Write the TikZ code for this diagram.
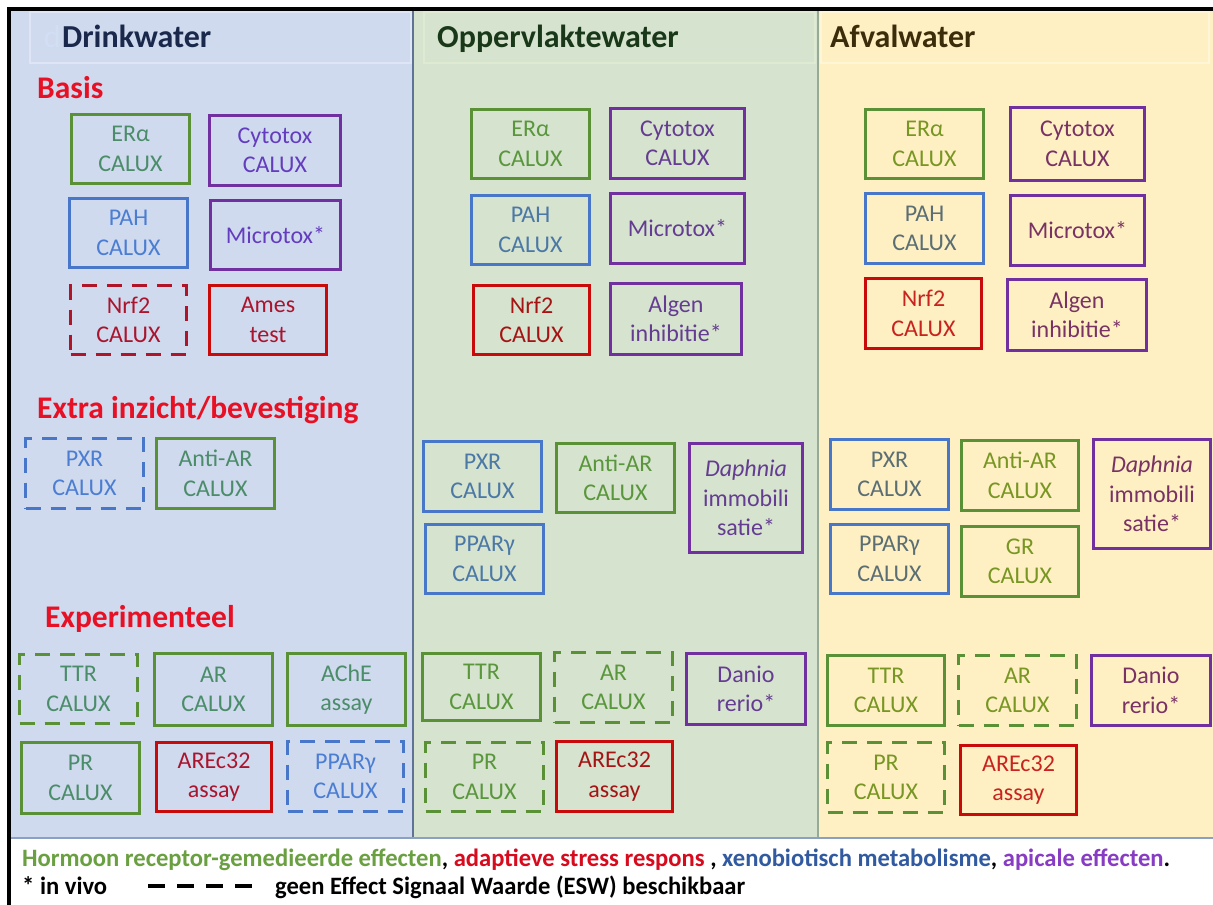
\documentclass[tikz,border=0pt]{standalone}
\usepackage{fontspec}
\setmainfont{Carlito}
\usepackage{graphicx}
\definecolor{bgB}{RGB}{207,218,238}
\definecolor{bgG}{RGB}{214,227,207}
\definecolor{bgY}{RGB}{255,240,196}
\definecolor{cG}{RGB}{90,145,55}
\definecolor{cB}{RGB}{72,118,200}
\definecolor{cP}{RGB}{112,48,160}
\definecolor{cR}{RGB}{200,10,10}
\definecolor{hR}{RGB}{232,16,36}
\definecolor{lgG}{RGB}{106,160,66}
\definecolor{lgR}{RGB}{215,10,30}
\definecolor{lgB}{RGB}{50,90,160}
\definecolor{lgP}{RGB}{135,60,195}
\definecolor{hdB}{RGB}{25,40,75}
\definecolor{hdG}{RGB}{25,55,25}
\definecolor{hdY}{RGB}{60,45,10}
\newcommand\bx[7]{\node[#6, minimum width={(#4-#2-3)*1pt}, minimum height={(#5-#3-3)*1pt}] (#1) at ({(#2+#4)/2},{(#3+#5)/2}) {#7};}
\tikzset{
  boxbase/.style={draw, line width=3pt, align=center, inner sep=0pt, font=\fontsize{24}{29.5}\selectfont},
  boxg/.style={boxbase, draw=cG, text=tg},
  boxb/.style={boxbase, draw=cB, text=tb},
  boxp/.style={boxbase, draw=cP, text=tp},
  boxr/.style={boxbase, draw=cR, text=tr},
  dsh/.style={dash pattern=on 15pt off 10pt},
  panelhead/.style={anchor=base west, inner sep=0pt, font=\fontsize{32}{38}\selectfont\bfseries},
  sechead/.style={anchor=base west, inner sep=0pt, text=hR, font=\fontsize{31.5}{38}\selectfont\bfseries},
  legend/.style={anchor=base west, inner sep=0pt, font=\fontsize{25}{30}\selectfont\bfseries}
}
\begin{document}
\begin{tikzpicture}[x=1pt,y=-1pt]
\useasboundingbox (0,0) rectangle (1213,905);
\fill[white] (0,0) rectangle (1213,905);
% panels
\fill[bgB] (11,9) rectangle (413,838);
\fill[bgG] (413,9) rectangle (818,838);
\fill[bgY] (818,9) rectangle (1213,838);
\draw[draw={rgb,255:red,222;green,230;blue,245}, line width=1.5pt] (30,12) rectangle (411,63);
\draw[draw={rgb,255:red,222;green,234;blue,210}, line width=1.5pt] (424,12) rectangle (815,63);
\draw[draw={rgb,255:red,255;green,246;blue,215}, line width=1.5pt] (821,12) rectangle (1209,63);
\draw[draw={rgb,255:red,95;green,115;blue,150}, line width=1.5pt] (413,10) -- (413,838);
\draw[draw={rgb,255:red,150;green,170;blue,150}, line width=1.5pt] (818,10) -- (818,838);
\draw[draw={rgb,255:red,140;green,160;blue,195}, line width=1.5pt] (11,838) -- (1213,838);
% outer frame
\draw[black, line width=4pt] (1213,9) -- (9,9) -- (9,905);
% headings
\node[panelhead, anchor=base east, font=\fontsize{32}{38}\selectfont, text={rgb,255:red,210;green,222;blue,244}] (dd) at (61,47) {d};
\node[panelhead, text=hdB] (hD) at (62,47) {Drinkwater};
\node[panelhead, text=hdG] (hO) at (437,47) {Oppervlaktewater};
\node[panelhead, text=hdY] (hA) at (830,47) {Afvalwater};
\node[sechead] (sB) at (37,98) {Basis};
\node[sechead] (sE) at (37,418) {Extra inzicht/bevestiging};
\node[sechead] (sX) at (45,627) {Experimenteel};
% Drinkwater
\begin{scope}
\colorlet{tg}{rgb,255:red,75;green,140;blue,105}
\colorlet{tb}{rgb,255:red,75;green,125;blue,210}
\colorlet{tp}{rgb,255:red,100;green,60;blue,190}
\colorlet{tr}{rgb,255:red,170;green,20;blue,45}
\bx{dERa}{70}{113}{191}{185}{boxg}{ERα\\CALUX}
\bx{dCyt}{208}{114}{342}{187}{boxp}{Cytotox\\CALUX}
\bx{dPAH}{68}{197}{189}{269}{boxb}{PAH\\CALUX}
\bx{dMic}{209}{199}{342}{271}{boxp}{Microtox*}
\bx{dNrf}{69}{284}{188}{356}{boxr,draw={rgb,255:red,175;green,20;blue,40},dsh}{Nrf2\\CALUX}
\bx{dAme}{208}{284}{328}{356}{boxr}{Ames\\test}
\bx{dPXR}{24}{437}{145}{510}{boxb,dsh}{PXR\\CALUX}
\bx{dAAR}{155}{437}{276}{510}{boxg}{Anti-AR\\CALUX}
\bx{dTTR}{18}{653}{139}{725}{boxg,dsh}{TTR\\CALUX}
\bx{dAR}{153}{652}{274}{727}{boxg}{AR\\CALUX}
\bx{dACh}{286}{652}{407}{727}{boxg}{AChE\\assay}
\bx{dPR}{20}{741}{141}{815}{boxg}{PR\\CALUX}
\bx{dARE}{155}{741}{273}{813}{boxr}{AREc32\\assay}
\bx{dPPA}{286}{740}{405}{813}{boxb,dsh}{PPARγ\\CALUX}
\end{scope}
% Oppervlaktewater
\begin{scope}
\colorlet{tg}{rgb,255:red,90;green,150;blue,60}
\colorlet{tb}{rgb,255:red,75;green,120;blue,165}
\colorlet{tp}{rgb,255:red,100;green,60;blue,145}
\colorlet{tr}{rgb,255:red,165;green,20;blue,20}
\bx{oERa}{470}{108}{591}{180}{boxg}{ERα\\CALUX}
\bx{oCyt}{609}{107}{746}{180}{boxp}{Cytotox\\CALUX}
\bx{oPAH}{470}{194}{591}{266}{boxb}{PAH\\CALUX}
\bx{oMic}{609}{192}{746}{265}{boxp}{Microtox*}
\bx{oNrf}{472}{284}{591}{356}{boxr}{Nrf2\\CALUX}
\bx{oAlg}{609}{282}{743}{356}{boxp}{Algen\\inhibitie*}
\bx{oPXR}{422}{440}{543}{513}{boxb}{PXR\\CALUX}
\bx{oAAR}{555}{442}{676}{514}{boxg}{Anti-AR\\CALUX}
\bx{oDap}{688}{442}{804}{554}{boxp}{\textit{Daphnia}\\immobili\\satie*}
\bx{oPPA}{424}{523}{545}{595}{boxb}{PPARγ\\CALUX}
\bx{oTTR}{421}{652}{542}{722}{boxg}{TTR\\CALUX}
\bx{oAR}{553}{651}{674}{724}{boxg,dsh}{AR\\CALUX}
\bx{oDan}{685}{652}{807}{726}{boxp}{Danio\\rerio*}
\bx{oPR}{424}{741}{545}{813}{boxg,dsh}{PR\\CALUX}
\bx{oARE}{555}{740}{674}{813}{boxr}{AREc32\\assay}
\end{scope}
% Afvalwater
\begin{scope}
\colorlet{tg}{rgb,255:red,120;green,150;blue,35}
\colorlet{tb}{rgb,255:red,90;green,110;blue,115}
\colorlet{tp}{rgb,255:red,120;green,50;blue,100}
\colorlet{tr}{rgb,255:red,200;green,35;blue,30}
\bx{aERa}{864}{108}{985}{180}{boxg}{ERα\\CALUX}
\bx{aCyt}{1009}{106}{1146}{182}{boxp}{Cytotox\\CALUX}
\bx{aPAH}{864}{192}{985}{265}{boxb}{PAH\\CALUX}
\bx{aMic}{1009}{194}{1146}{267}{boxp}{Microtox*}
\bx{aNrf}{864}{277}{983}{350}{boxr}{Nrf2\\CALUX}
\bx{aAlg}{1006}{278}{1148}{352}{boxp}{Algen\\inhibitie*}
\bx{aPXR}{829}{438}{950}{511}{boxb}{PXR\\CALUX}
\bx{aAAR}{960}{439}{1080}{512}{boxg}{Anti-AR\\CALUX}
\bx{aDap}{1092}{438}{1212}{550}{boxp}{\textit{Daphnia}\\immobili\\satie*}
\bx{aPPA}{829}{523}{950}{595}{boxb}{PPARγ\\CALUX}
\bx{aGR}{960}{525}{1080}{598}{boxg}{GR\\CALUX}
\bx{aTTR}{826}{654}{946}{727}{boxg}{TTR\\CALUX}
\bx{aAR}{957}{654}{1078}{727}{boxg,dsh}{AR\\CALUX}
\bx{aDan}{1090}{654}{1212}{727}{boxp}{Danio\\rerio*}
\bx{aPR}{826}{741}{946}{814}{boxg,dsh}{PR\\CALUX}
\bx{aARE}{959}{744}{1078}{816}{boxr}{AREc32\\assay}
\end{scope}
% legend
\node[legend] (leg1) at (22,866) {\resizebox{1148pt}{\height}{\textcolor{lgG}{Hormoon receptor-gemedieerde effecten}, \textcolor{lgR}{adaptieve stress respons} , \textcolor{lgB}{xenobiotisch metabolisme}, \textcolor{lgP}{apicale effecten}.}};
\node[legend] (leg2) at (22,894) {\resizebox{85pt}{\height}{* in vivo}};
\coordinate (dashA) at (148,886);
\coordinate (dashB) at (252,886);
\draw[black, line width=4.5pt, dash pattern=on 17pt off 12pt] (dashA) -- (dashB);
\node[legend] (leg3) at (275,894) {\resizebox{470pt}{\height}{geen Effect Signaal Waarde (ESW) beschikbaar}};
\end{tikzpicture}
\end{document}
